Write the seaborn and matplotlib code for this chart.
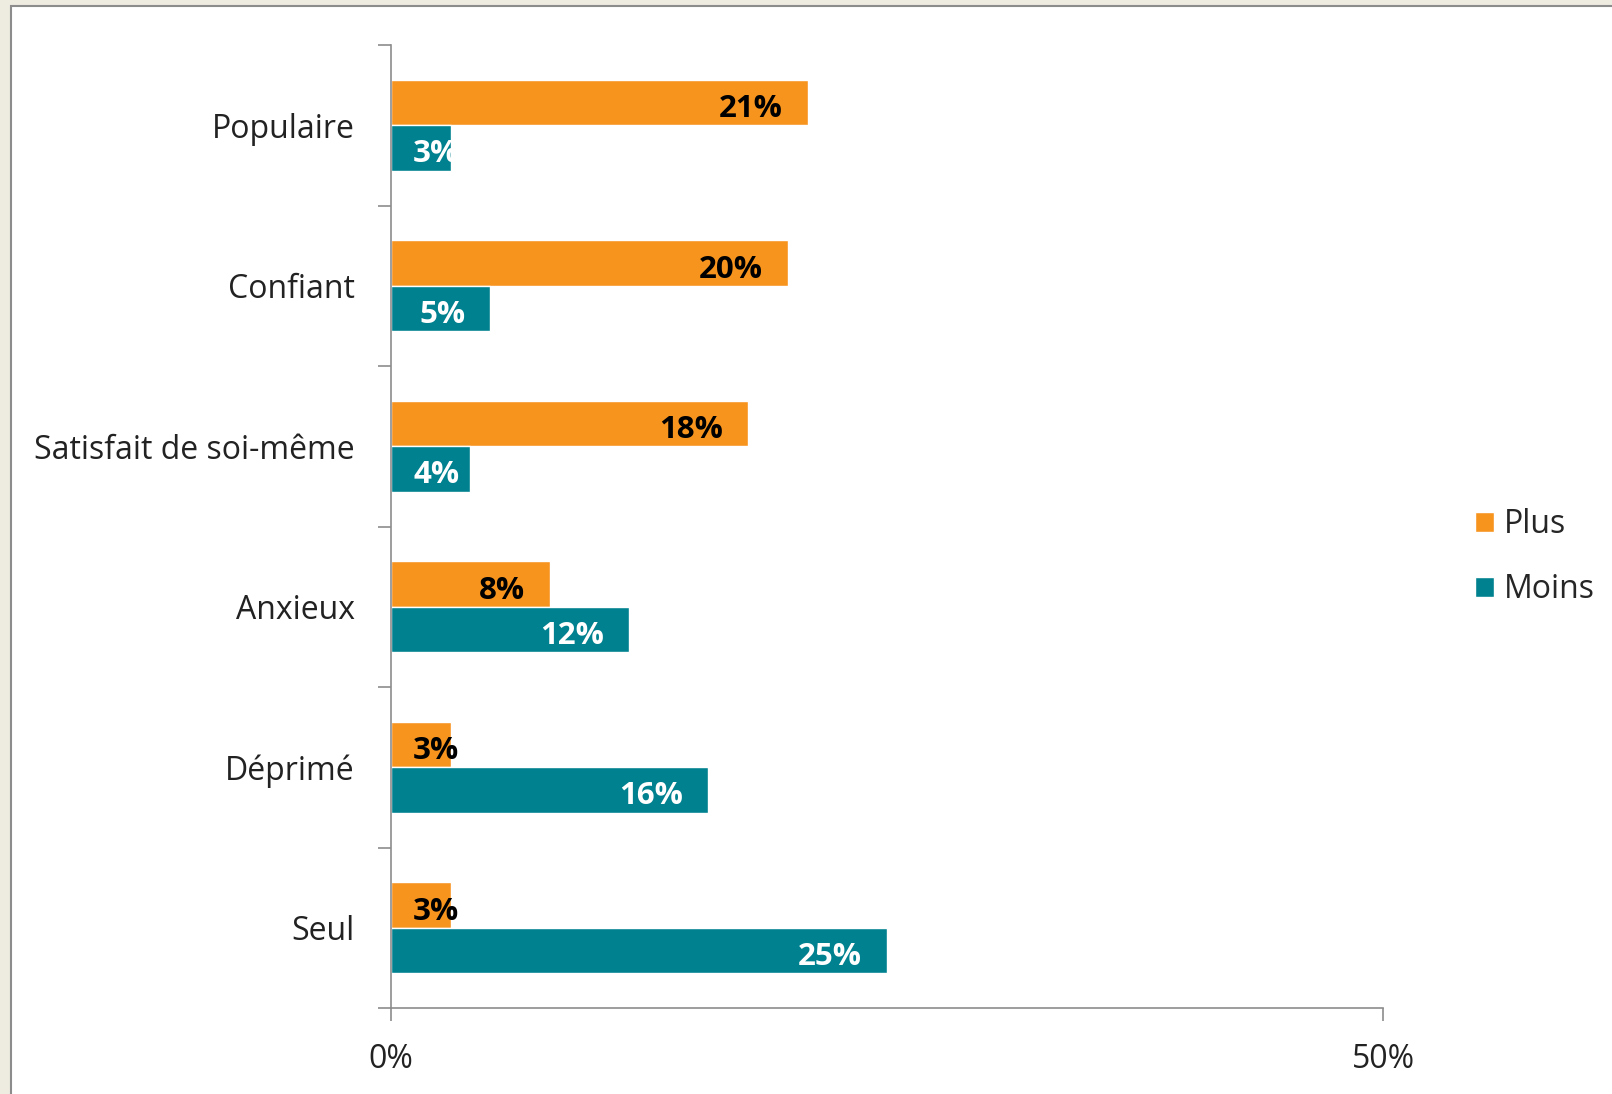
import numpy as np
import pandas as pd
import seaborn as sns
import matplotlib.pyplot as plt
from matplotlib.patches import Rectangle, Patch
from matplotlib.ticker import FixedLocator, PercentFormatter

# Data
categories = ["Populaire", "Confiant", "Satisfait de soi-même", "Anxieux", "Déprimé", "Seul"]
plus_values = [21, 20, 18, 8, 3, 3]
moins_values = [3, 5, 4, 12, 16, 25]
series_names = ["Plus", "Moins"]
x_ticks = [0, 50]

orange = "#F7941E"
teal = "#00818F"
grey = "#8C8C8C"

df = pd.DataFrame({
    "categorie": categories * 2,
    "valeur": plus_values + moins_values,
    "serie": [series_names[0]] * len(categories) + [series_names[1]] * len(categories),
})

sns.set_theme(style="ticks")
plt.rcParams["font.family"] = ["Open Sans", "DejaVu Sans"]
fs = 23
fs_val = 22.5

fig = plt.figure(figsize=(16.12, 10.94), dpi=100, facecolor="#EEEBE1")
# white chart area with the thin grey frame (cut off on the right and bottom)
fig.patches.append(Rectangle((11 / 1612, -0.1), 1.2, 1 - 6 / 1094 + 0.1, transform=fig.transFigure,
                             facecolor="white", edgecolor=grey, linewidth=1.5, zorder=-5))

ax = fig.add_axes([391 / 1612, 86 / 1094, 992 / 1612, 963 / 1094])
ax.set_facecolor("none")
sns.barplot(data=df, y="categorie", x="valeur", hue="serie", orient="h",
            palette=[orange, teal], width=0.564, ax=ax, legend=False, saturation=1)

ax.set_xlim(0, 50)
ax.set_ylim(len(categories) - 0.5, -0.5)
ax.set_xlabel("")
ax.set_ylabel("")
ax.xaxis.set_major_locator(FixedLocator(x_ticks))
ax.xaxis.set_major_formatter(PercentFormatter(decimals=0))
ax.yaxis.set_minor_locator(FixedLocator(np.arange(-0.5, len(categories), 1)))
ax.tick_params(axis="y", which="major", length=0, pad=26, labelsize=fs, colors="#222222")
ax.tick_params(axis="y", which="minor", length=9.5, width=1.2, color=grey)
ax.tick_params(axis="x", which="major", length=9.5, width=1.2, color=grey, pad=16,
               labelsize=fs, labelcolor="#222222")
sns.despine(ax=ax)
for s in ["left", "bottom"]:
    ax.spines[s].set_color(grey)
    ax.spines[s].set_linewidth(1.2)

# value labels at the inside end of each bar, pushed right when the bar is too short
fig.canvas.draw()
renderer = fig.canvas.get_renderer()
pad_px = 25
for container, col in zip(ax.containers, ["black", "white"]):
    for bar in container:
        w = bar.get_width()
        yc = bar.get_y() + bar.get_height() / 2
        t = ax.annotate(f"{w:.0f}%", (w, yc), xytext=(-pad_px, -14.5), textcoords="offset pixels",
                        ha="right", va="baseline", fontsize=fs_val, fontweight="bold", color=col)
        bb = t.get_window_extent(renderer)
        x0 = ax.transData.transform((0, yc))[0]
        if bb.x0 < x0 + pad_px:
            t.xy = (0, yc)
            t.set_position((pad_px - 3, -14.5))
            t.set_ha("left")

handles = [Patch(facecolor=orange, label="Plus"), Patch(facecolor=teal, label="Moins")]
fig.legend(handles=handles, loc="center left", bbox_to_anchor=(1475 / 1612, 1 - 557 / 1094),
           frameon=False, fontsize=fs, handlelength=0.6, handleheight=0.6,
           handletextpad=0.3, labelspacing=1.0, borderpad=0, borderaxespad=0)

fig.savefig("out.png", dpi=100, facecolor=fig.get_facecolor())
